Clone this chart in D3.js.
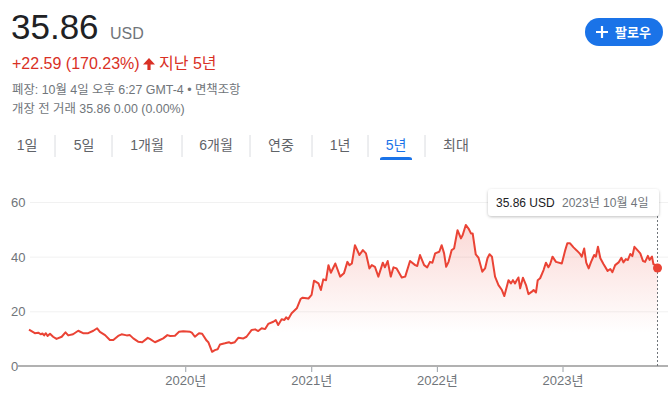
<!DOCTYPE html>
<html>
<head>
<meta charset="utf-8">
<title>5년 주가</title>
<script src="https://d3js.org/d3.v7.min.js"></script>
<style>
  html, body { margin: 0; padding: 0; background: #fff; }
  svg text { font-family: Arial, "Liberation Sans", "Noto Sans CJK KR", sans-serif; }
  .grid line { stroke: #f1f1f1; }
  .grid .domain { display: none; }
  .grid text { fill: #70757a; font-size: 13px; }
  .xaxis .domain { display: none; }
  .xaxis line { stroke: #9aa0a6; }
  .xaxis text { fill: #70757a; font-size: 13px; }
</style>
</head>
<body>
<div id="chart"></div>
<script>
"use strict"

// data (weekly-ish closes, USD)
var dates = [
  "2018-10-04","2018-10-21","2018-10-31","2018-11-07","2018-11-12","2018-11-17","2018-11-22","2018-11-27",
  "2018-12-04","2018-12-13","2018-12-23","2019-01-07","2019-01-18","2019-01-26","2019-02-09","2019-02-24",
  "2019-03-10","2019-03-25","2019-04-09","2019-04-20","2019-04-28","2019-05-13","2019-05-27","2019-06-06",
  "2019-06-20","2019-06-30","2019-07-15","2019-07-24","2019-08-03","2019-08-17","2019-08-29","2019-09-14",
  "2019-09-20","2019-10-05","2019-10-19","2019-10-29","2019-11-10","2019-11-18","2019-12-02","2019-12-14",
  "2019-12-26","2020-01-15","2020-01-20","2020-01-29","2020-02-10","2020-02-19","2020-03-03","2020-03-08",
  "2020-03-19","2020-03-27","2020-04-04","2020-04-11","2020-04-25","2020-05-07","2020-05-13","2020-05-24",
  "2020-06-03","2020-06-18","2020-06-27","2020-07-12","2020-07-22","2020-07-31","2020-08-10","2020-08-20",
  "2020-08-29","2020-09-13","2020-09-20","2020-09-27","2020-10-07","2020-10-15","2020-10-20","2020-10-26",
  "2020-11-05","2020-11-20","2020-12-01","2020-12-07","2020-12-24","2021-01-02","2021-01-09","2021-01-22",
  "2021-01-29","2021-02-05","2021-02-13","2021-02-20","2021-02-27","2021-03-12","2021-03-26","2021-04-06",
  "2021-04-16","2021-04-22","2021-04-29","2021-05-08","2021-05-21","2021-05-31","2021-06-09","2021-06-19",
  "2021-06-26","2021-07-05","2021-07-15","2021-07-28","2021-08-03","2021-08-11","2021-08-20","2021-08-28",
  "2021-09-06","2021-09-21","2021-10-01","2021-10-15","2021-10-30","2021-11-05","2021-11-13","2021-11-25",
  "2021-12-04","2021-12-12","2021-12-19","2021-12-27","2022-01-08","2022-01-15","2022-01-22","2022-01-28",
  "2022-02-04","2022-02-13","2022-02-20","2022-03-02","2022-03-12","2022-03-17","2022-03-26","2022-04-03",
  "2022-04-10","2022-04-15","2022-04-24","2022-05-02","2022-05-13","2022-05-21","2022-05-28","2022-06-03",
  "2022-06-10","2022-06-19","2022-06-29","2022-07-09","2022-07-16","2022-07-28","2022-08-04","2022-08-10",
  "2022-08-16","2022-08-21","2022-08-26","2022-08-31","2022-09-08","2022-09-17","2022-09-24","2022-10-04",
  "2022-10-09","2022-10-16","2022-10-21","2022-10-28","2022-11-07","2022-11-14","2022-11-21","2022-11-26",
  "2022-12-03","2022-12-13","2022-12-30","2023-01-09","2023-01-15","2023-01-23","2023-02-02","2023-02-12",
  "2023-02-21","2023-02-26","2023-03-05","2023-03-11","2023-03-18","2023-03-25","2023-04-03","2023-04-08",
  "2023-04-14","2023-04-21","2023-04-30","2023-05-12","2023-05-20","2023-05-26","2023-06-03","2023-06-13",
  "2023-06-21","2023-06-27","2023-07-04","2023-07-10","2023-07-17","2023-07-23","2023-07-29","2023-08-08",
  "2023-08-15","2023-08-23","2023-08-29","2023-09-06","2023-09-11","2023-09-18","2023-09-22","2023-09-28",
  "2023-10-04"
];
var prices = [
  13.27,12.0,12.2,11.6,11.9,11.2,12.0,11.0,
  11.8,10.7,9.9,10.7,12.3,11.2,11.6,12.9,
  12.0,12.0,12.9,13.8,12.5,11.3,9.5,9.5,
  11.0,11.6,11.2,11.3,10.1,8.9,8.7,10.3,
  9.9,8.7,9.5,10.1,11.3,11.0,11.1,12.5,
  12.7,12.5,12.2,10.7,12.0,11.8,9.3,8.7,
  5.2,5.8,6.1,7.9,8.3,8.7,8.3,8.7,
  10.3,10.1,10.7,13.2,13.4,12.8,13.8,13.5,
  15.4,16.2,16.8,15.0,17.1,16.8,17.8,17.1,
  19.3,21.1,24.5,25.0,24.7,26.0,31.2,30.2,
  27.8,31.7,31.4,36.9,34.1,37.5,32.7,33.9,
  38.1,36.9,37.5,44.2,40.6,42.4,41.2,35.7,
  36.9,36.3,32.7,37.8,36.1,38.4,32.7,36.1,
  35.7,32.4,32.7,38.4,36.9,36.6,40.6,36.9,
  36.1,38.1,37.8,41.2,41.8,44.2,41.2,36.3,
  38.1,42.4,43.0,49.7,46.7,47.9,51.6,50.3,
  48.5,48.5,40.8,39.6,34.5,35.7,39.4,40.9,
  40.0,32.7,29.6,27.8,25.6,31.4,30.2,31.4,
  30.2,31.4,32.4,28.4,32.3,29.6,26.3,27.2,
  27.8,26.9,31.4,32.1,35.1,37.8,36.1,37.2,
  40.0,38.1,37.5,42.4,44.9,44.9,43.4,42.2,
  41.0,40.0,43.0,37.8,35.7,38.1,40.6,40.0,
  43.6,39.4,37.3,34.8,35.5,34.3,36.9,37.9,
  39.6,37.9,39.1,38.8,41.0,40.2,43.6,42.2,
  41.2,38.4,38.1,40.3,38.8,40.0,37.3,36.9,
  35.86
];
var yTicks = [0, 20, 40, 60];
var xTickYears = [2020, 2021, 2022, 2023];
var tabs = ["1일", "5일", "1개월", "6개월", "연중", "1년", "5년", "최대"];
var activeTab = "5년";

var parse = d3.timeParse("%Y-%m-%d");
var dados = dates.map(function(d, i) { return { date: parse(d), price: prices[i] }; });
var last = dados[dados.length - 1];

var W = 672, H = 395;
var svg = d3.select("#chart").append("svg").attr("width", W).attr("height", H);

// cabeçalho
svg.append("text").attr("x", 11).attr("y", 39).attr("font-size", 35).attr("fill", "#202124").text("35.86");
svg.append("text").attr("x", 110).attr("y", 39).attr("font-size", 16).attr("fill", "#70757a").text("USD");

svg.append("text").attr("x", 12).attr("y", 69).attr("font-size", 16).attr("fill", "#d93025").text("+22.59 (170.23%)");
svg.append("path").attr("d", "M149,58 L155,64.5 L150.6,64.5 L150.6,70 L147.4,70 L147.4,64.5 L143,64.5 Z").attr("fill", "#d93025");
svg.append("text").attr("x", 159).attr("y", 69).attr("font-size", 16).attr("fill", "#d93025").text("지난 5년");

svg.append("text").attr("x", 12).attr("y", 94).attr("font-size", 12.4).attr("fill", "#70757a")
  .text("폐장: 10월 4일 오후 6:27 GMT-4 • 면책조항");
svg.append("text").attr("x", 12).attr("y", 113).attr("font-size", 12.4).attr("fill", "#70757a")
  .text("개장 전 거래 35.86 0.00 (0.00%)");

// botão
svg.append("rect").attr("x", 585).attr("y", 18).attr("width", 78).attr("height", 28).attr("rx", 14).attr("fill", "#1a73e8");
svg.append("path").attr("d", "M596,32 H608 M602,26 V38").attr("stroke", "#fff").attr("stroke-width", 2.2);
svg.append("text").attr("x", 615).attr("y", 37).attr("font-size", 13).attr("font-weight", "bold").attr("fill", "#fff").text("팔로우");

// abas
var tabCenters = [27, 84, 147, 216, 281, 340, 396, 456];
var tabSeps = [55, 112, 182, 250, 312, 368, 425];
svg.selectAll(".tab").data(tabs).enter().append("text")
  .attr("class", "tab")
  .attr("x", function(d, i) { return tabCenters[i]; })
  .attr("y", 150)
  .attr("text-anchor", "middle")
  .attr("font-size", 14)
  .attr("fill", function(d) { return d === activeTab ? "#1a73e8" : "#5f6368"; })
  .text(function(d) { return d; });
svg.selectAll(".sep").data(tabSeps).enter().append("line")
  .attr("x1", function(d) { return d; }).attr("x2", function(d) { return d; })
  .attr("y1", 135).attr("y2", 157).attr("stroke", "#dadce0");
var ai = tabs.indexOf(activeTab);
svg.append("path")
  .attr("d", "M" + (tabCenters[ai] - 16) + ",160 V159 Q" + (tabCenters[ai] - 16) + ",157 " + (tabCenters[ai] - 13) + ",157 H" + (tabCenters[ai] + 13) + " Q" + (tabCenters[ai] + 16) + ",157 " + (tabCenters[ai] + 16) + ",159 V160 Z")
  .attr("fill", "#1a73e8");

// gráfico
var x = d3.scaleTime()
  .domain([parse("2018-10-04"), parse("2023-10-04")])
  .range([29, 657.5]);
var y = d3.scaleLinear().domain([0, 60]).range([366, 202]);

var defs = svg.append("defs");
var grad = defs.append("linearGradient").attr("id", "fade")
  .attr("gradientUnits", "userSpaceOnUse")
  .attr("x1", 0).attr("x2", 0).attr("y1", y(55)).attr("y2", y(12));
grad.append("stop").attr("offset", 0).attr("stop-color", "#ea4335").attr("stop-opacity", 0.22);
grad.append("stop").attr("offset", 1).attr("stop-color", "#ea4335").attr("stop-opacity", 0);

var grid = svg.append("g").attr("class", "grid")
  .attr("transform", "translate(30,0)")
  .call(d3.axisLeft(y).tickValues(yTicks).tickSize(-638).tickPadding(0));
grid.selectAll("text").attr("x", -19).attr("text-anchor", "start").attr("dy", "0.35em");
grid.selectAll(".tick").filter(function(d) { return d === 0; }).select("line").remove();

svg.append("path").datum(dados)
  .attr("fill", "url(#fade)")
  .attr("d", d3.area().x(function(d) { return x(d.date); }).y0(y(0)).y1(function(d) { return y(d.price); }));

var xAxis = svg.append("g").attr("class", "xaxis")
  .attr("transform", "translate(0," + y(0) + ")")
  .call(d3.axisBottom(x)
    .tickValues(xTickYears.map(function(a) { return new Date(a, 0, 1); }))
    .tickSize(6).tickPadding(4)
    .tickFormat(function(d) { return d.getFullYear() + "년"; }));

svg.append("line").attr("x1", 18).attr("x2", 668).attr("y1", y(0)).attr("y2", y(0))
  .attr("stroke", "#b1b1b1").attr("stroke-width", 2);

svg.append("path").datum(dados)
  .attr("fill", "none").attr("stroke", "#ea4335").attr("stroke-width", 2).attr("stroke-linejoin", "round")
  .attr("d", d3.line().x(function(d) { return x(d.date); }).y(function(d) { return y(d.price); }));

// marcador e tooltip
svg.append("line").attr("x1", x(last.date)).attr("x2", x(last.date)).attr("y1", 216).attr("y2", y(0))
  .attr("stroke", "#70757a").attr("stroke-dasharray", "2,2");
svg.append("circle").attr("cx", x(last.date)).attr("cy", y(last.price)).attr("r", 4.5).attr("fill", "#ea4335");

var sh = defs.append("filter").attr("id", "sh").attr("x", "-10%").attr("y", "-30%").attr("width", "120%").attr("height", "170%");
sh.append("feDropShadow").attr("dx", 0).attr("dy", 1).attr("stdDeviation", 1.5).attr("flood-color", "#000").attr("flood-opacity", 0.25);
svg.append("rect").attr("x", 488).attr("y", 189).attr("width", 171).attr("height", 27).attr("rx", 4)
  .attr("fill", "#fff").attr("filter", "url(#sh)");
svg.append("text").attr("x", 496).attr("y", 207).attr("font-size", 12).attr("fill", "#202124")
  .text(last.price.toFixed(2) + " USD");
svg.append("text").attr("x", 562).attr("y", 207).attr("font-size", 12).attr("fill", "#70757a")
  .text(d3.timeFormat("%Y년 %-m월 %-d일")(last.date));
</script>
</body>
</html>
